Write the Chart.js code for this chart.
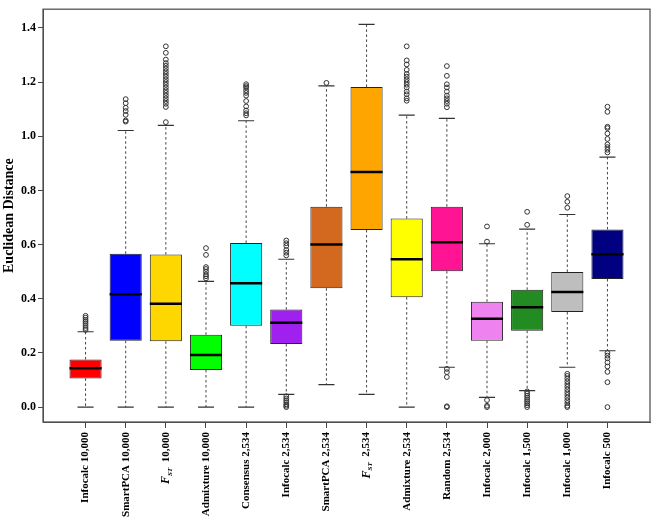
<!DOCTYPE html>
<html>
<head>
<meta charset="utf-8">
<script src="https://cdn.jsdelivr.net/npm/chart.js@4"></script>
<style>
html,body{margin:0;padding:0;background:#fff;}
#wrap{width:655px;height:517px;}
</style>
</head>
<body>
<div id="wrap"><canvas id="c" width="655" height="517"></canvas></div>
<script>
// ---------- data ----------
const categories = ['Infocalc 10,000','SmartPCA 10,000','F_ST 10,000','Admixture 10,000','Consensus 2,534','Infocalc 2,534','SmartPCA 2,534','F_ST 2,534','Admixture 2,534','Random 2,534','Infocalc 2,000','Infocalc 1,500','Infocalc 1,000','Infocalc 500'];
const q1 =          [0.106, 0.245, 0.243, 0.137, 0.300, 0.233, 0.439, 0.654, 0.406, 0.502, 0.245, 0.282, 0.351, 0.473];
const medians =     [0.143, 0.417, 0.382, 0.192, 0.457, 0.311, 0.600, 0.868, 0.546, 0.609, 0.326, 0.369, 0.425, 0.564];
const q3 =          [0.176, 0.566, 0.563, 0.267, 0.606, 0.360, 0.740, 1.182, 0.696, 0.740, 0.389, 0.433, 0.499, 0.656];
const whiskerLow =  [0.000, 0.000, 0.000, 0.000, 0.000, 0.047, 0.083, 0.047, 0.000, 0.147, 0.036, 0.061, 0.147, 0.208];
const whiskerHigh = [0.278, 1.021, 1.040, 0.464, 1.057, 0.546, 1.186, 1.413, 1.078, 1.066, 0.603, 0.657, 0.711, 0.923];
const outliers = [
  [0.285, 0.292, 0.300, 0.308, 0.315, 0.322, 0.330, 0.337],
  [1.054, 1.058, 1.079, 1.093, 1.105, 1.122, 1.137],
  [1.052, 1.108, 1.12, 1.13, 1.14, 1.15, 1.16, 1.17, 1.18, 1.19, 1.20, 1.21, 1.22, 1.23, 1.24, 1.25, 1.26, 1.27, 1.283, 1.308, 1.332],
  [0.475, 0.483, 0.490, 0.500, 0.510, 0.517, 0.562, 0.587],
  [1.077, 1.085, 1.095, 1.11, 1.13, 1.15, 1.16, 1.17, 1.18, 1.185, 1.192],
  [0.560, 0.570, 0.580, 0.595, 0.605, 0.615, 0.000, 0.005, 0.010, 0.018, 0.025, 0.032, 0.040],
  [1.197],
  [],
  [1.131, 1.14, 1.155, 1.165, 1.18, 1.19, 1.20, 1.21, 1.22, 1.23, 1.245, 1.265, 1.28, 1.332],
  [1.107, 1.12, 1.13, 1.14, 1.15, 1.165, 1.18, 1.192, 1.223, 1.259, 0.141, 0.129, 0.111, 0.000, 0.003],
  [0.611, 0.667, 0.026, 0.005, 0.000],
  [0.673, 0.721, 0.058, 0.050, 0.042, 0.035, 0.028, 0.021, 0.014, 0.007, 0.000],
  [0.736, 0.758, 0.779, 0.123, 0.115, 0.105, 0.095, 0.085, 0.075, 0.065, 0.055, 0.045, 0.035, 0.025, 0.015, 0.005, 0.000],
  [0.940, 0.950, 0.960, 0.970, 0.990, 1.010, 1.030, 1.035, 1.090, 1.109, 0.200, 0.190, 0.180, 0.165, 0.150, 0.130, 0.092, 0.000]
];
const yTicks = [0.0, 0.2, 0.4, 0.6, 0.8, 1.0, 1.2, 1.4];
const boxColors = ['#FF0000','#0000FF','#FFD700','#00FF00','#00FFFF','#A020F0','#D2691E','#FFA500','#FFFF00','#FF1493','#EE82EE','#228B22','#BEBEBE','#000080'];

// ---------- build datasets ----------
const BOXHALF = 0.4, CAPHALF = 0.2;
const boxData = categories.map((c, i) => ({x: i + 1, y: [q1[i], q3[i]]}));
const whiskerData = [], capData = [], medianData = [], outlierData = [];
categories.forEach((c, i) => {
  const x = i + 1;
  whiskerData.push({x, y: q3[i]}, {x, y: whiskerHigh[i]}, {x, y: null},
                   {x, y: q1[i]}, {x, y: whiskerLow[i]}, {x, y: null});
  capData.push({x: x - CAPHALF, y: whiskerHigh[i]}, {x: x + CAPHALF, y: whiskerHigh[i]}, {x, y: null},
               {x: x - CAPHALF, y: whiskerLow[i]}, {x: x + CAPHALF, y: whiskerLow[i]}, {x, y: null});
  medianData.push({x: x - BOXHALF, y: medians[i]}, {x: x + BOXHALF, y: medians[i]}, {x, y: null});
  outliers[i].forEach(v => outlierData.push({x, y: v}));
});

const SERIF = '"Liberation Serif", "Times New Roman", serif';
const X_TICK_LEN = 6, X_TICK_PAD = 4;

const borderPlugin = {
  id: 'plotBorder',
  afterDraw(chart) {
    const {ctx, chartArea: a} = chart;
    ctx.save();
    ctx.strokeStyle = '#555';
    ctx.lineWidth = 1.3;
    ctx.strokeRect(a.left, a.top, a.right - a.left, a.bottom - a.top);
    // F_ST labels with italic F and subscript ST
    const xs = chart.scales.x;
    categories.forEach((c, i) => {
      if (!c.startsWith('F_ST')) return;
      const rest = c.slice(4);
      const px = xs.getPixelForValue(i + 1);
      ctx.save();
      ctx.translate(px, a.bottom + X_TICK_LEN + X_TICK_PAD);
      ctx.rotate(-Math.PI / 2);
      ctx.fillStyle = '#000';
      ctx.textBaseline = 'middle';
      ctx.textAlign = 'left';
      ctx.font = 'italic bold 12px ' + SERIF; const wF = ctx.measureText('F').width;
      ctx.font = 'italic bold 7px ' + SERIF; const wS = ctx.measureText('ST').width;
      ctx.font = 'bold 11px ' + SERIF; const wR = ctx.measureText(' ' + rest).width;
      let x0 = -(wF + wS + wR);
      ctx.font = 'italic bold 12px ' + SERIF; ctx.fillText('F', x0, 0);
      ctx.font = 'italic bold 7px ' + SERIF; ctx.fillText('ST', x0 + wF, 4);
      ctx.font = 'bold 11px ' + SERIF; ctx.fillText(' ' + rest, x0 + wF + wS, 0);
      ctx.restore();
    });
    ctx.restore();
  }
};

new Chart(document.getElementById('c'), {
  type: 'bar',
  data: {
    datasets: [
      {type: 'line', label: 'medians', data: medianData, borderColor: '#000', borderWidth: 2.5,
       pointRadius: 0, spanGaps: false, borderCapStyle: 'butt', order: 1},
      {type: 'scatter', label: 'outliers', data: outlierData, pointRadius: 2.4, pointStyle: 'circle',
       borderColor: '#333', backgroundColor: 'rgba(0,0,0,0)', pointBorderWidth: 1, showLine: false, order: 2},
      {type: 'line', label: 'caps', data: capData, borderColor: '#333', borderWidth: 1.1,
       pointRadius: 0, spanGaps: false, order: 3},
      {type: 'line', label: 'whiskers', data: whiskerData, borderColor: '#444', borderWidth: 1,
       borderDash: [2.5, 2.5], pointRadius: 0, spanGaps: false, order: 4},
      {type: 'bar', label: 'boxes', data: boxData, backgroundColor: boxColors, borderColor: '#222',
       borderWidth: 1, borderSkipped: false, barPercentage: 1, categoryPercentage: 0.8, order: 5}
    ]
  },
  options: {
    responsive: false,
    animation: false,
    events: [],
    layout: {padding: {top: 4, right: 3, left: 0, bottom: 0}},
    plugins: {legend: {display: false}, tooltip: {enabled: false}},
    scales: {
      x: {
        type: 'linear', min: -0.06, max: 15.06, offset: false,
        afterBuildTicks: s => { s.ticks = categories.map((c, i) => ({value: i + 1})); },
        afterFit: s => { s.height = 95; },
        ticks: {
          autoSkip: false, maxRotation: 90, minRotation: 90, padding: X_TICK_PAD, color: '#000',
          font: {family: SERIF, size: 11, weight: 'bold'},
          callback: (v) => { const c = categories[Math.round(v) - 1] || ''; return c.startsWith('F_ST') ? '' : c; }
        },
        grid: {display: true, drawOnChartArea: false, drawTicks: true, tickLength: X_TICK_LEN, color: '#444', offset: false},
        border: {display: true, color: '#444', width: 1}
      },
      y: {
        type: 'linear', min: -0.055, max: 1.469,
        afterBuildTicks: s => { s.ticks = yTicks.map(v => ({value: v})); },
        afterFit: s => { s.width = 43; },
        ticks: {
          padding: 2, color: '#000',
          font: {family: SERIF, size: 12, weight: 'bold'},
          callback: v => Number(v).toFixed(1)
        },
        grid: {display: true, drawOnChartArea: false, drawTicks: true, tickLength: 5, color: '#444'},
        border: {display: true, color: '#444', width: 1},
        title: {display: true, text: 'Euclidean Distance', color: '#000',
                font: {family: SERIF, size: 14, weight: 'bold'}, padding: {top: 1, bottom: 0}}
      }
    }
  },
  plugins: [borderPlugin]
});
</script>
</body>
</html>
